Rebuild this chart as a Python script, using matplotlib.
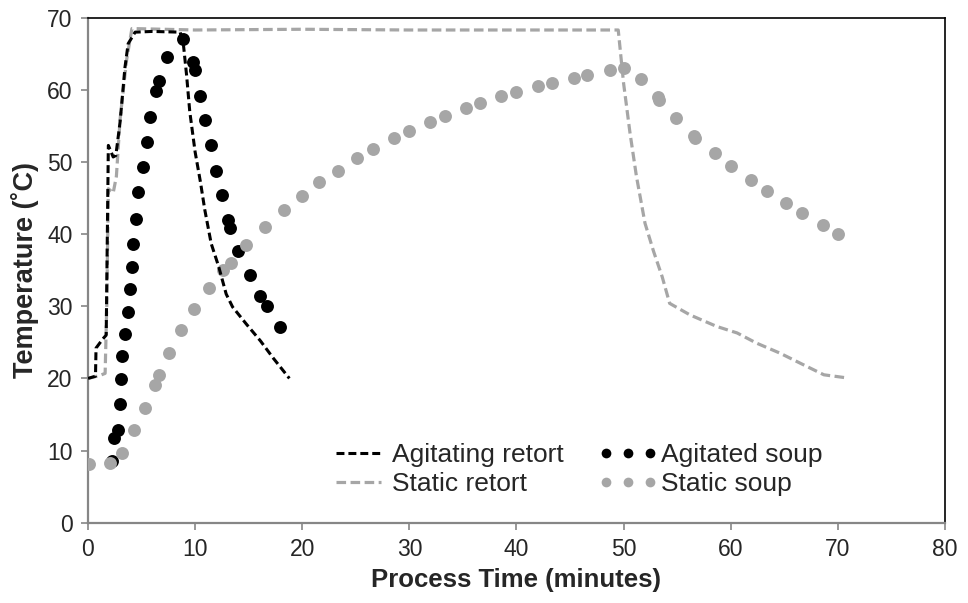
import matplotlib
matplotlib.use('Agg')
import matplotlib.pyplot as plt
from matplotlib.lines import Line2D

plt.rcParams['font.family'] = ['Liberation Sans', 'DejaVu Sans']

# retort temperature, agitating run
agit_retort_t = [0.0, 0.7, 0.75, 1.4, 1.7, 1.9, 2.35, 2.6, 3.0, 3.45, 3.75, 4.4, 6.0,
                 8.6, 8.9, 9.2, 9.5, 10.0, 10.5, 10.9, 11.5, 12.2, 12.9, 13.5, 14.8,
                 16.1, 17.3, 18.8]
agit_retort_T = [20.0, 20.3, 24.2, 25.5, 26.0, 52.3, 50.7, 50.9, 55.6, 63.1, 66.4, 68.0, 68.1,
                 68.0, 66.4, 62.1, 57.0, 51.4, 47.2, 43.4, 38.7, 35.5, 31.7, 29.9, 27.5,
                 25.2, 22.8, 20.0]

# retort temperature, static run
stat_retort_t = [0.0, 1.1, 1.6, 1.75, 1.9, 2.35, 2.65, 3.0, 3.6, 4.1, 10.0, 20.0, 30.0,
                 40.0, 49.5, 50.0, 50.6, 51.2, 52.0, 52.8, 53.6, 54.3, 56.2, 58.7, 60.6,
                 62.4, 64.6, 66.5, 68.7, 70.7]
stat_retort_T = [20.0, 20.4, 20.7, 30.0, 46.3, 45.7, 48.0, 56.0, 64.1, 68.5, 68.3, 68.4, 68.3,
                 68.3, 68.3, 60.9, 54.0, 48.0, 41.5, 37.6, 34.1, 30.4, 28.8, 27.2, 26.3,
                 24.9, 23.5, 22.1, 20.5, 20.1]

# soup core temperature, agitated
agit_soup_t = [2.2, 2.4, 2.8, 3.0, 3.1, 3.2, 3.45, 3.7, 3.9, 4.1, 4.2, 4.5, 4.7, 5.1,
               5.5, 5.8, 6.35, 6.6, 7.4, 8.9, 9.8, 10.0, 10.5, 10.9, 11.5, 11.95,
               12.5, 13.1, 13.3, 14.0, 15.1, 16.1, 16.7, 17.9]
agit_soup_T = [8.5, 11.8, 12.8, 16.5, 19.9, 23.1, 26.1, 29.2, 32.4, 35.5, 38.7, 42.1, 45.8, 49.3,
               52.8, 56.3, 59.8, 61.2, 64.5, 67.0, 63.8, 62.8, 59.2, 55.8, 52.3, 48.8,
               45.4, 42.0, 40.9, 37.6, 34.3, 31.4, 30.1, 27.1]

# soup core temperature, static
stat_soup_t = [0.1, 2.05, 3.2, 4.3, 5.3, 6.25, 6.6, 7.6, 8.7, 9.9, 11.3, 12.6, 13.35, 14.75,
               16.5, 18.3, 20.0, 21.6, 23.3, 25.1, 26.6, 28.6, 30.0, 31.9, 33.3, 35.3,
               36.6, 38.6, 40.0, 42.0, 43.3, 45.4, 46.6, 48.7, 50.0, 51.6, 53.2, 53.3,
               54.9, 56.6, 56.7, 58.5, 60.0, 61.9, 63.4, 65.2, 66.7, 68.6, 70.0]
stat_soup_T = [8.2, 8.3, 9.7, 12.8, 15.9, 19.1, 20.5, 23.5, 26.7, 29.6, 32.6, 35.0, 36.0, 38.5,
               41.0, 43.3, 45.3, 47.2, 48.8, 50.5, 51.8, 53.3, 54.3, 55.5, 56.4, 57.5,
               58.2, 59.1, 59.7, 60.5, 61.0, 61.6, 62.1, 62.8, 63.1, 61.5, 59.0, 58.6,
               56.1, 53.6, 53.3, 51.2, 49.4, 47.5, 46.0, 44.3, 42.9, 41.2, 40.0]

black = '#000000'
grey = '#A6A6A6'
axis_grey = '#868686'
text_col = '#262626'

fig = plt.figure(figsize=(9.68, 6.03), dpi=100)
ax = fig.add_axes([0.0909, 0.1332, 0.8853, 0.8374])

ax.plot(agit_soup_t, agit_soup_T, 'o', color=black, ms=9.3, mew=0, zorder=2)
ax.plot(stat_soup_t, stat_soup_T, 'o', color=grey, ms=9.3, mew=0, zorder=3)
ax.plot(stat_retort_t, stat_retort_T, color=grey, lw=2.3, ls=(0, (3.0, 1.4)), zorder=4)
ax.plot(agit_retort_t, agit_retort_T, color=black, lw=2.2, ls=(0, (2.6, 1.3)), zorder=5)

ax.set_xlim(0, 80)
ax.set_ylim(0, 70)
ax.set_xticks(range(0, 81, 10))
ax.set_yticks(range(0, 71, 10))
ax.tick_params(direction='out', length=5, width=1.2, color=axis_grey,
               labelsize=16.5, labelcolor=text_col, pad=6)

for side in ['left', 'bottom']:
    ax.spines[side].set_color(axis_grey)
    ax.spines[side].set_linewidth(1.6)
for side in ['top', 'right']:
    ax.spines[side].set_color(black)
    ax.spines[side].set_linewidth(1.2)

ax.set_xlabel('Process Time (minutes)', fontsize=18.5, fontweight='bold', color=text_col, labelpad=5)
ax.set_ylabel('Temperature (˚C)', fontsize=19.5, fontweight='bold', color=text_col, labelpad=6)

handles = [
    Line2D([], [], color=black, lw=2.2, ls=(0, (2.6, 1.3))),
    Line2D([], [], color=grey, lw=2.3, ls=(0, (3.0, 1.4))),
    Line2D([], [], ls='none', marker='o', color=black, ms=7, mew=0),
    Line2D([], [], ls='none', marker='o', color=grey, ms=7, mew=0),
]
labels = ['Agitating retort', 'Static retort', 'Agitated soup', 'Static soup']
leg = ax.legend(handles, labels, ncol=2, numpoints=3, frameon=False, fontsize=19,
                loc='lower left', bbox_to_anchor=(0.268, 0.032), handlelength=2.3,
                handletextpad=0.1, columnspacing=1.3, labelspacing=0.18, borderaxespad=0)
for t in leg.get_texts():
    t.set_color(text_col)

fig.savefig('out.png', dpi=100)
